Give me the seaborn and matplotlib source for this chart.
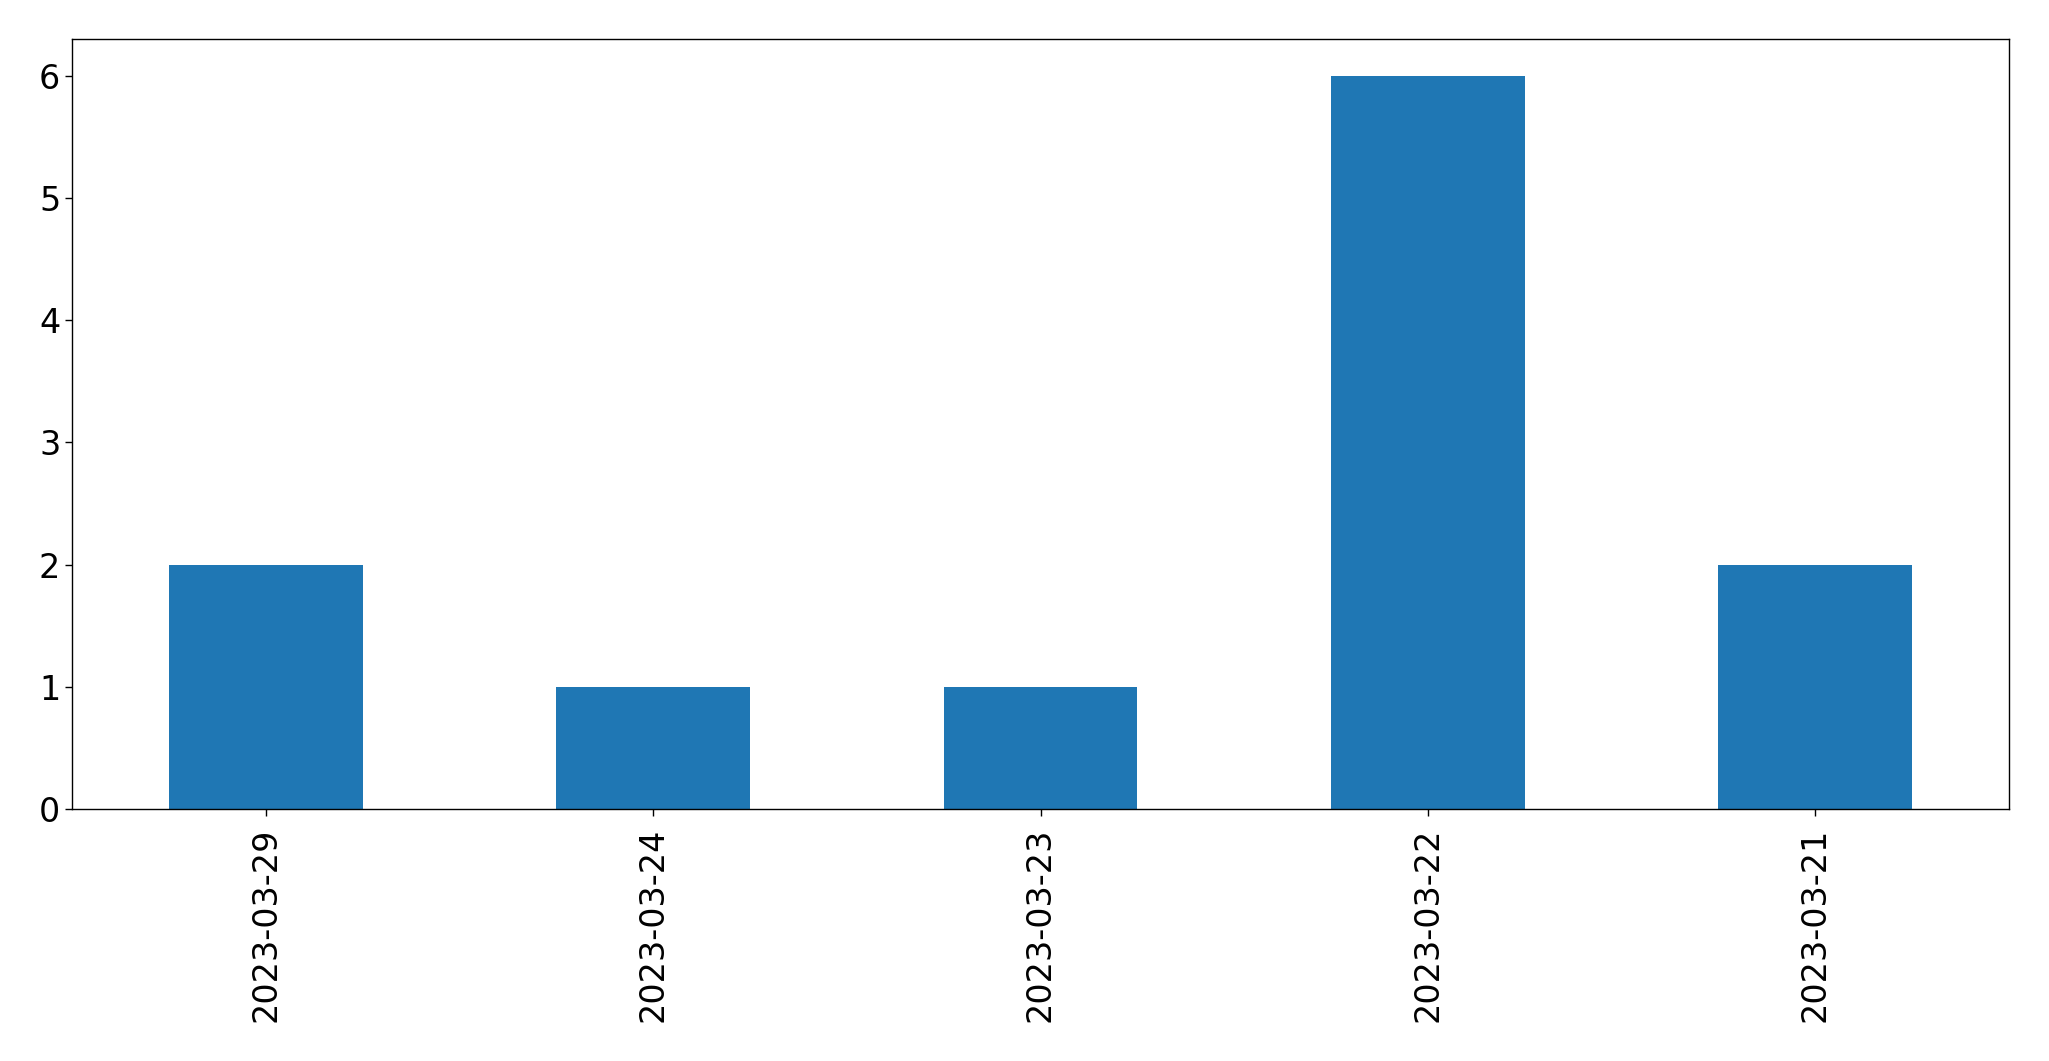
import matplotlib
matplotlib.use("Agg")
import matplotlib.pyplot as plt
import seaborn as sns
import pandas as pd

dates = ["2023-03-29", "2023-03-24", "2023-03-23", "2023-03-22", "2023-03-21"]
counts = [2, 1, 1, 6, 2]

df = pd.DataFrame({"date": dates, "count": counts})

sns.set_style("ticks")
plt.rcParams['font.family'] = ['DejaVu Sans']

fig = plt.figure(figsize=(20.49, 10.61), dpi=100)
ax = fig.add_axes([72/2049, 1 - 809/1061, (2009-72)/2049, (809-39)/1061])
sns.barplot(data=df, x="date", y="count", color="#1f77b4", saturation=1,
            width=0.5, order=dates, ax=ax, linewidth=0)
ax.set_xlim(-0.5, len(dates) - 0.5)
ax.set_ylim(0, 6.3)
ax.set_xlabel("")
ax.set_ylabel("")
for s in ax.spines.values():
    s.set_visible(True)
    s.set_color("black")
    s.set_linewidth(1.0)
ax.tick_params(axis="both", labelsize=24, colors="black", length=5, width=1)
ax.tick_params(axis="x", pad=8.5)
plt.setp(ax.get_xticklabels(), rotation=90)
fig.savefig("out.png", dpi=100)
